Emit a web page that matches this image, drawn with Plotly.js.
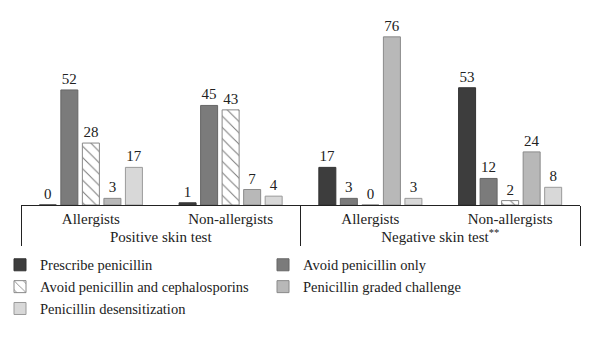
<!DOCTYPE html>
<html>
<head>
<meta charset="utf-8">
<script src="https://cdn.plot.ly/plotly-3.0.1.min.js"></script>
<style>html,body{margin:0;padding:0;background:#fff;}#chart{width:600px;height:353px;}</style>
</head>
<body>
<div id="chart"></div>
<script>
var groups = ["Positive skin test", "Positive skin test", "Negative skin test<sup>**</sup>", "Negative skin test<sup>**</sup>"];
var categories = ["Allergists", "Non-allergists", "Allergists", "Non-allergists"];

var seriesNames = ["Prescribe penicillin", "Avoid penicillin only", "Avoid penicillin and cephalosporins", "Penicillin graded challenge", "Penicillin desensitization"];
var prescribe = [0, 1, 17, 53];
var avoidOnly = [52, 45, 3, 12];
var avoidBoth = [28, 43, 0, 2];
var graded = [3, 7, 76, 24];
var desens = [17, 4, 3, 8];

var FONT = "Liberation Serif, DejaVu Serif, serif";
var fills = ["#3d3d3d", "#7b7b7b", "#ffffff", "#b8b8b8", "#d8d8d8"];
var edges = ["#333333", "#666666", "#888888", "#8a8a8a", "#9a9a9a"];
var values = [prescribe, avoidOnly, avoidBoth, graded, desens];

var traces = values.map(function (v, i) {
  var marker = { color: fills[i], line: { color: edges[i], width: 1 } };
  if (i === 2) {
    marker.pattern = { shape: "\\", fgcolor: "#777777", bgcolor: "#ffffff", size: 8, solidity: 0.12 };
  }
  return {
    type: "bar",
    name: seriesNames[i],
    x: [groups, categories],
    y: v,
    marker: marker,
    text: v.map(String),
    textposition: "outside",
    textfont: { family: FONT, size: 15, color: "#222" },
    cliponaxis: false,
    hoverinfo: "x+y+name"
  };
});

var layout = {
  width: 600,
  height: 353,
  margin: { l: 21, r: 20, t: 28, b: 148, autoexpand: false },
  paper_bgcolor: "#fff",
  plot_bgcolor: "#fff",
  font: { family: FONT, size: 15, color: "#222" },
  barmode: "group",
  bargap: 0.23,
  bargroupgap: 0.21,
  showlegend: true,
  legend: {
    orientation: "h",
    xref: "container",
    yref: "container",
    x: -0.003,
    xanchor: "left",
    y: 0.295,
    yanchor: "top",
    traceorder: "normal",
    entrywidth: 218,
    entrywidthmode: "pixels",
    font: { family: FONT, size: 14.5, color: "#222" },
    bgcolor: "rgba(0,0,0,0)"
  },
  xaxis: {
    type: "multicategory",
    range: [-0.5, 3.5],
    autorange: false,
    automargin: false,
    showline: true,
    linecolor: "#222",
    linewidth: 1,
    ticks: "",
    showgrid: false,
    zeroline: false,
    showdividers: true,
    dividercolor: "#222",
    dividerwidth: 1,
    tickfont: { family: FONT, size: 15, color: "#222" }
  },
  yaxis: {
    visible: false,
    range: [0, 80],
    autorange: false,
    showgrid: false,
    zeroline: false
  }
};

Plotly.newPlot("chart", traces, layout, { displayModeBar: false, staticPlot: true });
</script>
</body>
</html>
